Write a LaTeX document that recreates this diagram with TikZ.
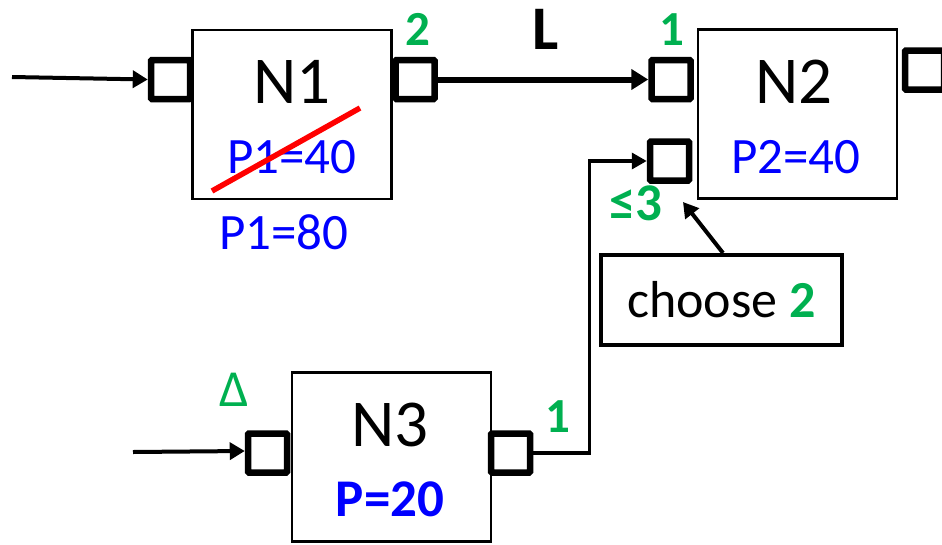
\documentclass[tikz,border=0pt]{standalone}
\usepackage{fontspec}
\setmainfont{Carlito}
\usetikzlibrary{arrows.meta,calc}
\definecolor{pgreen}{RGB}{0,176,80}
\definecolor{pblue}{RGB}{0,0,255}
\begin{document}
\begin{tikzpicture}[x=1pt,y=-1pt,
  nodebox/.style={draw, line width=2.5pt, fill=white, inner sep=0pt, minimum width=199pt, minimum height=169pt},
  port/.style={draw, line width=6.5pt, fill=white, inner sep=0pt, minimum size=39pt, rounded corners=1pt},
  bigname/.style={inner sep=0pt, font=\fontsize{67}{70}\selectfont},
  pval/.style={inner sep=0pt, text=pblue, font=\fontsize{51}{55}\selectfont},
  glabel/.style={inner sep=0pt, text=pgreen, font=\bfseries\fontsize{49}{52}\selectfont},
  conn/.style={line width=4pt, -{Triangle[length=15pt,width=17pt]}}
]
\useasboundingbox (0,0) rectangle (942,544);
\clip (0,0) rectangle (942,544);
% N1
\node[nodebox] (n1) at (292,114.5) {};
\node[port] (p1l) at (170.5,79.5) {};
\node[port] (p1r) at (415,79.5) {};
\node[bigname] (n1t) at (292,82) {N1};
\node[pval] (n1p) at (292,157) {P1=40};
\node[pval] (n1q) at (284,232) {P1=80};
\coordinate (s1) at (212,191);
\coordinate (s2) at (360,108);
\draw[red, line width=5.5pt] (s1) -- (s2);
\node[glabel] (g2) at (418,29) {2};
% N2
\node[nodebox] (n2) at (797.5,114) {};
\node[port] (p2a) at (671,79.5) {};
\node[port] (p2b) at (669.5,161) {};
\node[port] (p2r) at (924.5,70) {};
\node[bigname] (n2t) at (794,82) {N2};
\node[pval] (n2p) at (796,157) {P2=40};
\node[glabel] (g1) at (672,30) {1};
\node[glabel, font=\bfseries\fontsize{53}{56}\selectfont] (le3) at (636,203) {≤3};
\node[inner sep=0pt, font=\bfseries\fontsize{62}{64}\selectfont] (L) at (546,29) {L};
% N3
\node[nodebox] (n3) at (391.5,457) {};
\node[port] (p3l) at (267.5,453) {};
\node[port] (p3r) at (510.5,453) {};
\node[bigname] (n3t) at (390,425) {N3};
\node[pval, font=\bfseries\fontsize{53}{56}\selectfont] (n3p) at (390,499) {P=20};
\node[glabel] (g3) at (558,417) {1};
\node[inner sep=0pt, text=pgreen, font=\fontsize{52}{56}\selectfont] (delta) at (234,390) {Δ};
% choose box
\node[draw, line width=4pt, inner sep=0pt, minimum width=241pt, minimum height=90pt,
      font=\fontsize{52}{54}\selectfont] (ch) at (721.5,300) {choose \textcolor{pgreen}{\bfseries 2}};
% connectors
\coordinate (in1) at (12,77);
\coordinate (in3) at (133,452);
\coordinate (chtip) at (683,202);
\draw[conn] (in1) -- (p1l.west);
\draw[conn] (in3) -- ($(p3l.west)+(0,-2)$);
\draw[line width=6pt, -{Triangle[length=17pt,width=20pt]}] (p1r.east) -- (p2a.west);
\draw[line width=3.5pt, -{Triangle[length=15pt,width=16pt]}] (p3r.east) -- ++(56,0) |- (p2b.west);
\draw[conn] ([xshift=1.5pt]ch.north) -- (chtip);
\end{tikzpicture}
\end{document}
